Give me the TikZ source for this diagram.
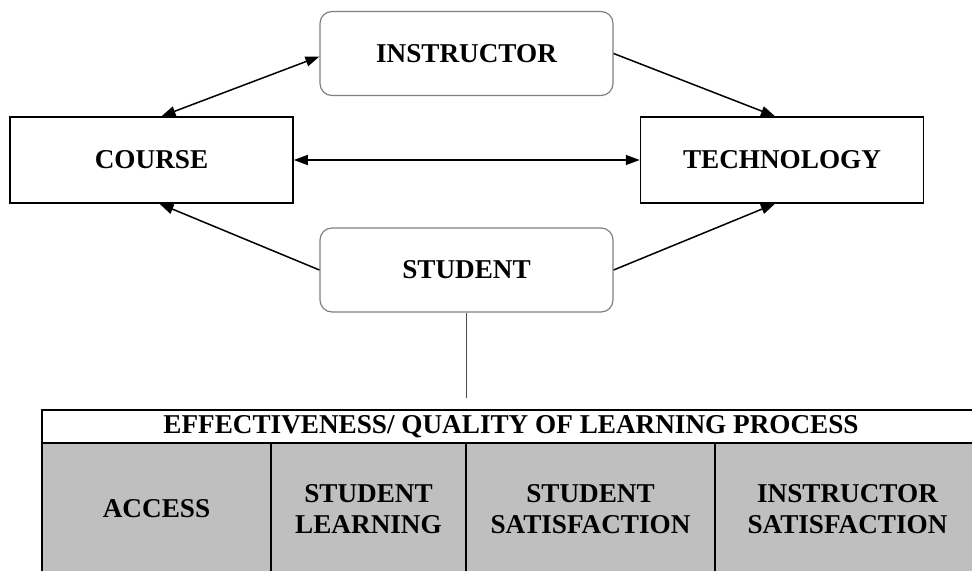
\documentclass[tikz,border=0pt]{standalone}
\usepackage{fontspec}
\setmainfont{Liberation Serif}
\usetikzlibrary{arrows.meta}

\tikzset{
  caja/.style={draw=black, line width=0.75pt, rectangle, inner sep=0pt,
    minimum width=141.5pt, minimum height=43pt,
    font=\bfseries\fontsize{13.6}{15.5}\selectfont},
  redonda/.style={caja, draw=black!50, line width=0.6pt, rounded corners=6pt,
    minimum width=146.5pt, minimum height=42pt},
  celda/.style={draw=black, line width=0.6pt, fill=black!25, inner sep=0pt,
    minimum height=66pt, align=center,
    font=\bfseries\fontsize{13.6}{15.5}\selectfont},
  cabecera/.style={draw=black, line width=0.6pt, fill=white, inner sep=0pt,
    minimum width=469pt, minimum height=16.5pt,
    font=\bfseries\fontsize{13.6}{15.5}\selectfont},
}

\begin{document}
\begin{tikzpicture}[x=0.5pt, y=-0.5pt, >={Triangle[length=7pt,width=5pt]}]
    \useasboundingbox (0,0) rectangle (972,571);
    \clip (0,0) rectangle (972,571);

    % Cajas
    \node[redonda] (instructor) at (466.5,53.5) {INSTRUCTOR};
    \node[caja] (course) at (151.5,160) {COURSE};
    \node[caja] (technology) at (782,160) {TECHNOLOGY};
    \node[redonda] (student) at (466.5,270) {STUDENT};

    % Flechas
    \draw[line width=0.75pt, <->] ([xshift=5pt]course.north) -- ([yshift=-1.5pt]instructor.west);
    \draw[line width=0.75pt, ->] (instructor.east) -- ([xshift=-3.5pt]technology.north);
    \draw[line width=0.75pt, <->] (course.east) -- (technology.west);
    \draw[line width=0.75pt, ->] (student.west) -- ([xshift=4pt]course.south);
    \draw[line width=0.75pt, ->] (student.east) -- ([xshift=-3.5pt]technology.south);

    % Linea hacia la tabla
    \coordinate (fin) at (466.5,398);
    \draw[black!70, line width=0.5pt] (student.south) -- (fin);

    % Tabla
    \node[cabecera] (titulo) at (511,426.5) {EFFECTIVENESS/ QUALITY OF LEARNING PROCESS};
    \node[celda, minimum width=114.5pt] (access) at (156.5,509) {ACCESS};
    \node[celda, minimum width=97.5pt] (learning) at (368.5,509) {STUDENT\\LEARNING};
    \node[celda, minimum width=124.5pt] (ssatis) at (590.5,509) {STUDENT\\SATISFACTION};
    \node[celda, minimum width=132.5pt] (isatis) at (847.5,509) {INSTRUCTOR\\SATISFACTION};
\end{tikzpicture}
\end{document}
